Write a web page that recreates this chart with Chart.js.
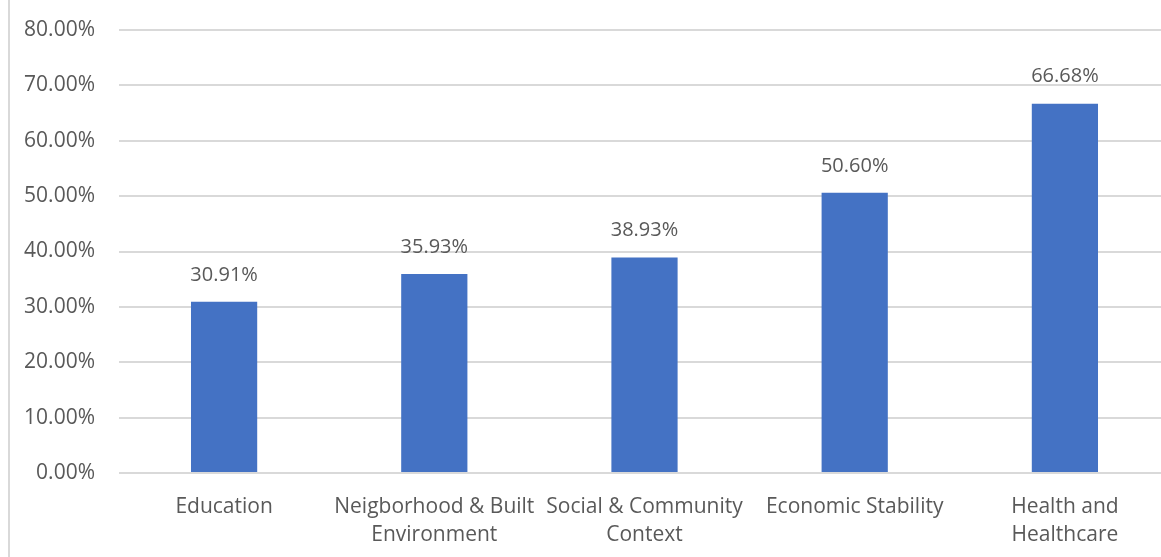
<!DOCTYPE html>
<html lang="en">
<head>
    <meta charset="UTF-8">
    <title>Social Determinants Chart</title>
    <script src="https://cdn.jsdelivr.net/npm/chart.js"></script>
    <style>
        html, body { margin: 0; padding: 0; background: #fff; overflow: hidden; }
        #wrap { position: relative; width: 1170px; height: 557px; }
        #edge { position: absolute; left: 8px; top: 0; width: 2px; height: 557px; background: #d9d9d9; }
    </style>
</head>
<body>
    <div id="wrap">
        <canvas id="barChart" width="1170" height="557"></canvas>
        <div id="edge"></div>
    </div>

    <script>
        // chart data
        var categories = [
            'Education',
            ['Neigborhood & Built', 'Environment'],
            ['Social & Community', 'Context'],
            'Economic Stability',
            ['Health and', 'Healthcare']
        ];
        var percentValues = [30.91, 35.93, 38.93, 50.60, 66.68];
        var yTicks = [0, 10, 20, 30, 40, 50, 60, 70, 80];

        var textGray = '#595959';
        var fontFamily = '"Open Sans", "Noto Sans", sans-serif';

        // draws the value above each bar
        var valueLabels = {
            id: 'valueLabels',
            afterDatasetsDraw: function (chart) {
                var ctx = chart.ctx;
                var meta = chart.getDatasetMeta(0);
                ctx.save();
                ctx.font = '20px ' + fontFamily;
                ctx.fillStyle = textGray;
                ctx.textAlign = 'center';
                ctx.textBaseline = 'middle';
                meta.data.forEach(function (bar, i) {
                    ctx.fillText(percentValues[i].toFixed(2) + '%', bar.x, bar.y - 27);
                });
                ctx.restore();
            }
        };

        var ctx = document.getElementById('barChart').getContext('2d');
        var myChart = new Chart(ctx, {
            type: 'bar',
            data: {
                labels: categories,
                datasets: [{
                    data: percentValues,
                    backgroundColor: '#4472C4',
                    borderWidth: 0,
                    barPercentage: 0.63,
                    categoryPercentage: 0.5
                }]
            },
            options: {
                responsive: false,
                animation: false,
                layout: { padding: { top: 30, right: 0, left: 0, bottom: 0 } },
                plugins: {
                    legend: { display: false },
                    tooltip: { enabled: false }
                },
                scales: {
                    x: {
                        grid: { display: false },
                        border: { display: false },
                        ticks: {
                            color: textGray,
                            font: { family: fontFamily, size: 21, lineHeight: 1.33 },
                            maxRotation: 0,
                            autoSkip: false,
                            padding: 12
                        },
                        afterFit: function (scale) {
                            scale.height = 84;
                            scale.paddingLeft = 0;
                            scale.paddingRight = 0;
                        }
                    },
                    y: {
                        min: 0,
                        max: 80,
                        afterBuildTicks: function (scale) {
                            scale.ticks = yTicks.map(function (v) { return { value: v }; });
                        },
                        grid: { color: '#d9d9d9', lineWidth: 2, drawTicks: false },
                        border: { display: false },
                        ticks: {
                            color: textGray,
                            font: { family: fontFamily, size: 21 },
                            padding: 24,
                            callback: function (v) { return v.toFixed(2) + '%'; }
                        },
                        afterFit: function (scale) {
                            scale.width = 119;
                            scale.paddingTop = 0;
                            scale.paddingBottom = 0;
                        }
                    }
                }
            },
            plugins: [valueLabels]
        });
    </script>
</body>
</html>
